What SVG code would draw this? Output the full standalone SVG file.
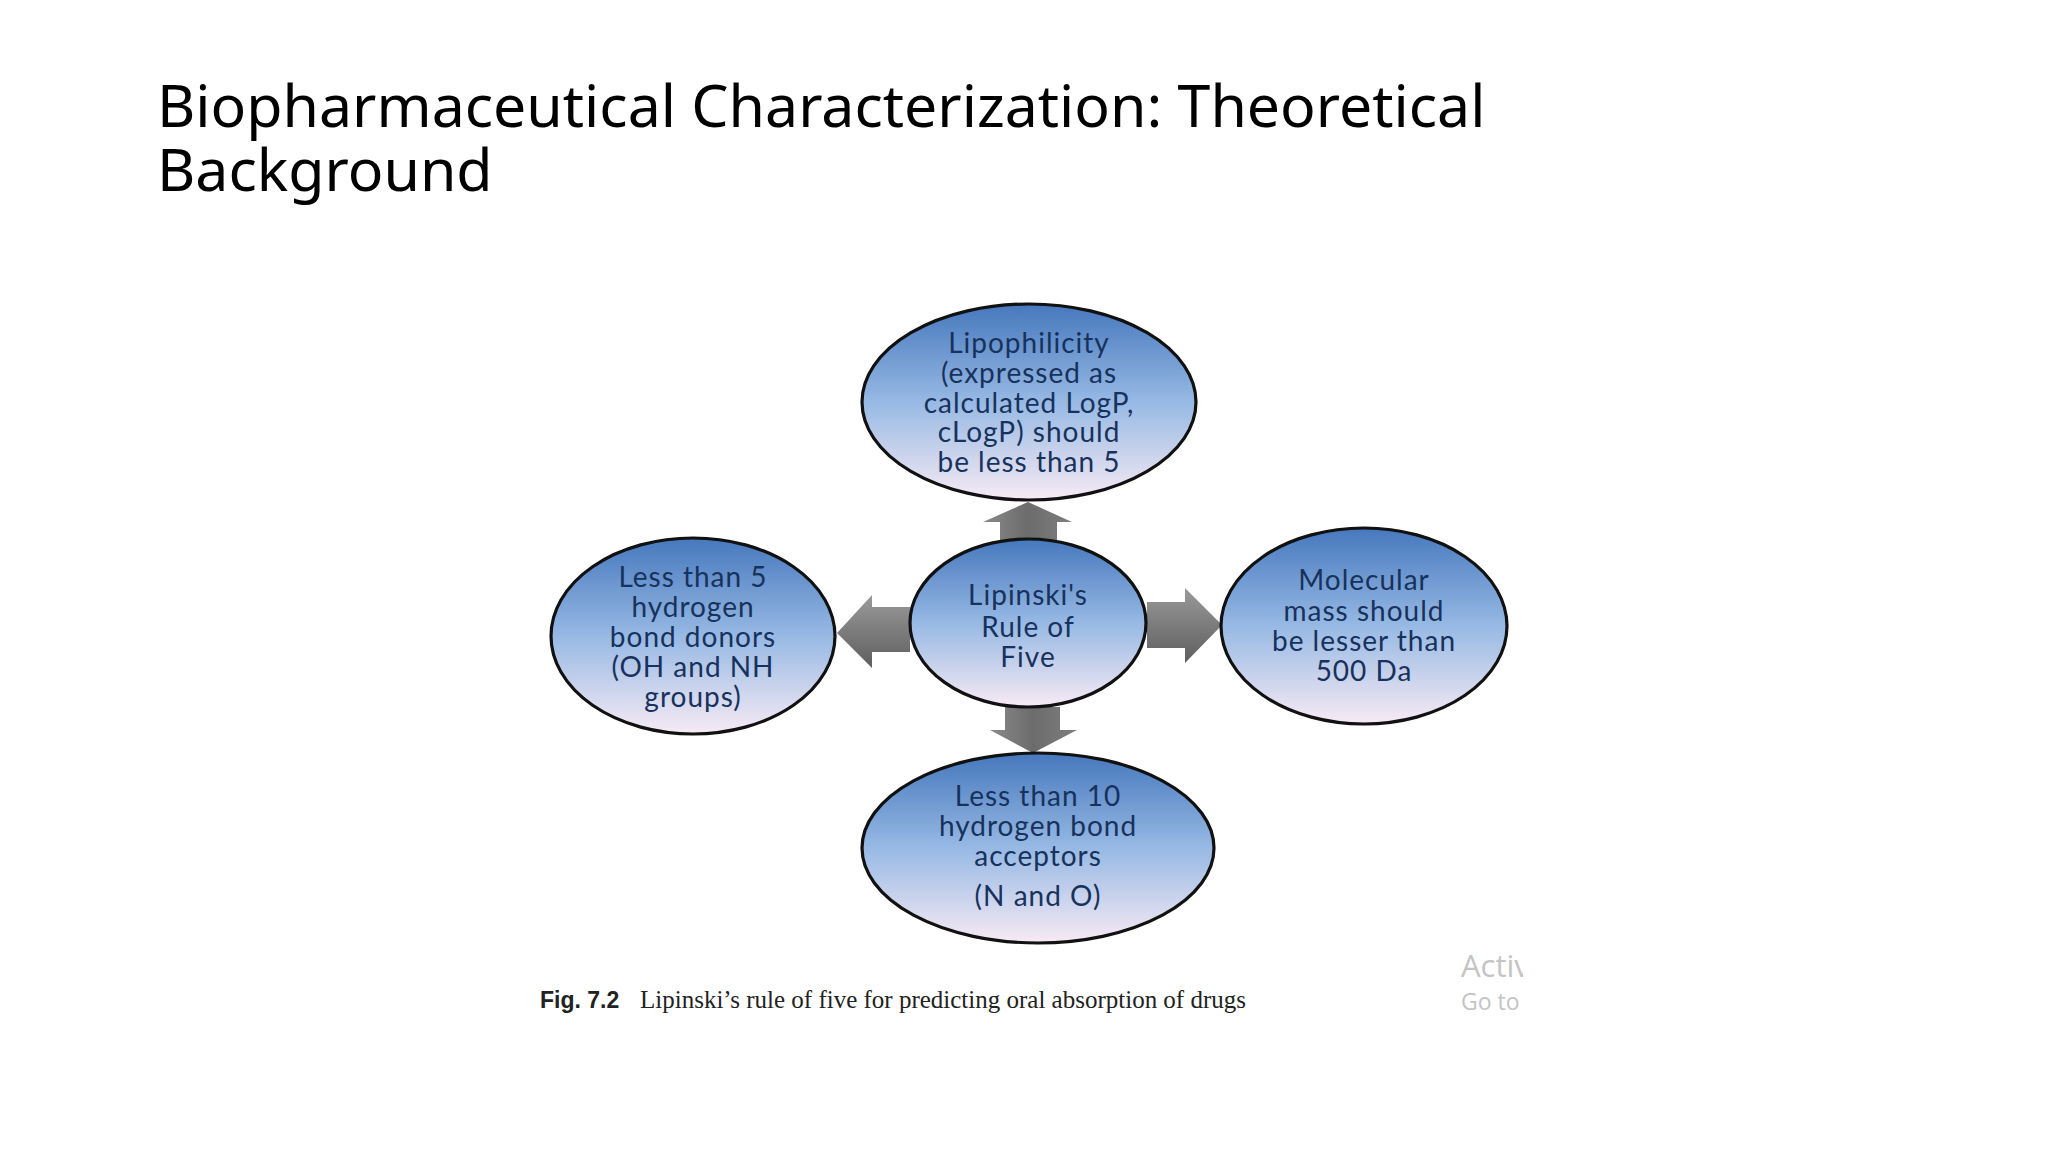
<svg xmlns="http://www.w3.org/2000/svg" width="2048" height="1152" viewBox="0 0 2048 1152">
  <defs>
    <linearGradient id="ellFill" x1="0" y1="0" x2="0" y2="1">
      <stop offset="0" stop-color="#4678bd"/>
      <stop offset="0.5" stop-color="#97b9e4"/>
      <stop offset="1" stop-color="#f7eaf4"/>
    </linearGradient>
    <linearGradient id="arrV" x1="0" y1="0" x2="1" y2="0">
      <stop offset="0" stop-color="#8a8a8a"/>
      <stop offset="0.5" stop-color="#6c6c6c"/>
      <stop offset="1" stop-color="#7e7e7e"/>
    </linearGradient>
    <linearGradient id="arrH" x1="0" y1="0" x2="0" y2="1">
      <stop offset="0" stop-color="#9a9a9a"/>
      <stop offset="1" stop-color="#5e5e5e"/>
    </linearGradient>
    <clipPath id="wmClip">
      <rect x="1440" y="930" width="83" height="110"/>
    </clipPath>
  </defs>
  <style>
    .title { font-family: "Noto Sans", "Open Sans", sans-serif; font-size: 59px; fill: #000; }
    .ell { fill: url(#ellFill); stroke: #111; stroke-width: 3.2; }
    .lbl { font-family: Lato, "Noto Sans", sans-serif; font-size: 28px; letter-spacing: 1px; fill: #17325c; text-anchor: middle; }
    .arrV { fill: url(#arrV); }
    .arrH { fill: url(#arrH); }
    .capB { font-family: "Liberation Sans", Arial, sans-serif; font-weight: bold; font-size: 23px; fill: #222; }
    .capS { font-family: "Liberation Serif", "Times New Roman", serif; font-size: 26px; fill: #222; }
    .wm { font-family: "Open Sans", "Noto Sans", sans-serif; fill: #c4c4c4; }
  </style>
  <rect width="2048" height="1152" fill="#ffffff"/>

  <g id="title">
    <text class="title" x="157" y="127">Biopharmaceutical Characterization: Theoretical</text>
    <text class="title" x="157" y="191">Background</text>
  </g>

  <g id="connectors">
    <path class="arrV" d="M1028,502 L1072,522 L1057,522 L1057,543 L1000,543 L1000,522 L983,522 Z"/>
    <path class="arrH" d="M1147,602 L1185,602 L1185,588 L1222,625 L1185,663 L1185,648 L1147,648 Z"/>
    <path class="arrH" d="M910,607 L872,607 L872,595 L837,633 L872,668 L872,652 L910,652 Z"/>
    <path class="arrV" d="M1005,707 L1060,707 L1060,730 L1077,730 L1033,753 L990,730 L1005,730 Z"/>
  </g>

  <g id="node-lipophilicity">
    <ellipse class="ell" cx="1029" cy="402" rx="167" ry="98"/>
    <text class="lbl" x="1029" y="353">Lipophilicity</text>
    <text class="lbl" x="1029" y="383">(expressed as</text>
    <text class="lbl" x="1029" y="413">calculated LogP,</text>
    <text class="lbl" x="1029" y="442">cLogP) should</text>
    <text class="lbl" x="1029" y="472">be less than 5</text>
  </g>

  <g id="node-donors">
    <ellipse class="ell" cx="693" cy="636" rx="142" ry="98"/>
    <text class="lbl" x="693" y="587">Less than 5</text>
    <text class="lbl" x="693" y="617">hydrogen</text>
    <text class="lbl" x="693" y="647">bond donors</text>
    <text class="lbl" x="693" y="677">(OH and NH</text>
    <text class="lbl" x="693" y="707">groups)</text>
  </g>

  <g id="node-center">
    <ellipse class="ell" cx="1028" cy="623" rx="118" ry="84"/>
    <text class="lbl" x="1028" y="605">Lipinski's</text>
    <text class="lbl" x="1028" y="637">Rule of</text>
    <text class="lbl" x="1028" y="667">Five</text>
  </g>

  <g id="node-mass">
    <ellipse class="ell" cx="1364" cy="626" rx="143" ry="98"/>
    <text class="lbl" x="1364" y="590">Molecular</text>
    <text class="lbl" x="1364" y="621">mass should</text>
    <text class="lbl" x="1364" y="651">be lesser than</text>
    <text class="lbl" x="1364" y="681">500 Da</text>
  </g>

  <g id="node-acceptors">
    <ellipse class="ell" cx="1038" cy="848" rx="176" ry="95"/>
    <text class="lbl" x="1038" y="806">Less than 10</text>
    <text class="lbl" x="1038" y="836">hydrogen bond</text>
    <text class="lbl" x="1038" y="866">acceptors</text>
    <text class="lbl" x="1038" y="906">(N and O)</text>
  </g>

  <g id="caption">
    <text class="capB" x="540" y="1008">Fig. 7.2</text>
    <text class="capS" x="640" y="1008" textLength="606" lengthAdjust="spacingAndGlyphs">Lipinski’s rule of five for predicting oral absorption of drugs</text>
  </g>

  <g id="watermark" clip-path="url(#wmClip)">
    <text class="wm" x="1461" y="977" font-size="31">Activ</text>
    <text class="wm" x="1461" y="1010" font-size="23">Go to</text>
  </g>
</svg>
